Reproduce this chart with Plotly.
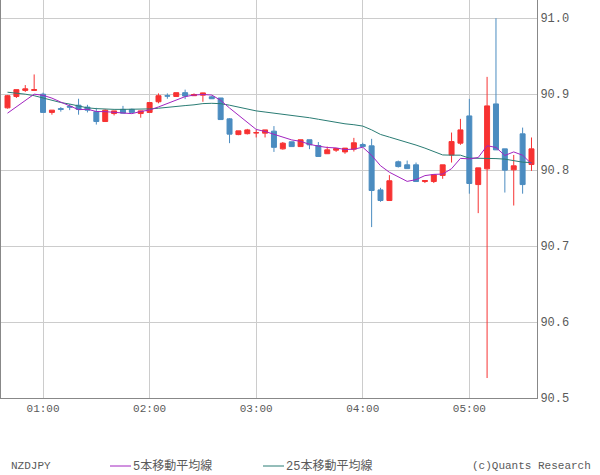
import plotly.graph_objects as go

times = ["00:40","00:45","00:50","00:55","01:00","01:05","01:10","01:15","01:20","01:25",
         "01:30","01:35","01:40","01:45","01:50","01:55","02:00","02:05","02:10","02:15",
         "02:20","02:25","02:30","02:35","02:40","02:45","02:50","02:55","03:00","03:05",
         "03:10","03:15","03:20","03:25","03:30","03:35","03:40","03:45","03:50","03:55",
         "04:00","04:05","04:10","04:15","04:20","04:25","04:30","04:35","04:40","04:45",
         "04:50","04:55","05:00","05:05","05:10","05:15","05:20","05:25","05:30","05:35"]

opens = [90.882, 90.897, 90.905, 90.905, 90.900, 90.876, 90.881, 90.884, 90.8855, 90.883,
         90.877, 90.864, 90.8745, 90.880, 90.880, 90.8745, 90.876, 90.890, 90.898, 90.897,
         90.902, 90.898, 90.8987, 90.8965, 90.895, 90.8675, 90.8468, 90.848, 90.849, 90.8487,
         90.8513, 90.828, 90.8373, 90.831, 90.840, 90.8324, 90.8216, 90.8263, 90.824, 90.8276,
         90.8337, 90.832, 90.774, 90.760, 90.811, 90.807, 90.807, 90.785, 90.785, 90.793,
         90.820, 90.8355, 90.8714, 90.781, 90.8017, 90.8872, 90.828, 90.8004, 90.8478, 90.8074]
highs = [90.899, 90.906, 90.912, 90.926, 90.902, 90.879, 90.883, 90.887, 90.894, 90.886,
         90.882, 90.880, 90.878, 90.8846, 90.881, 90.8784, 90.889, 90.901, 90.901, 90.902,
         90.906, 90.901, 90.902, 90.898, 90.895, 90.8684, 90.8517, 90.8543, 90.853, 90.853,
         90.858, 90.837, 90.8373, 90.840, 90.840, 90.837, 90.831, 90.8284, 90.829, 90.8425,
         90.836, 90.8412, 90.7767, 90.7934, 90.8126, 90.8126, 90.810, 90.7863, 90.7938, 90.807,
         90.8495, 90.8675, 90.8938, 90.803, 90.9228, 91.000, 90.828, 90.820, 90.856, 90.843]
lows = [90.881, 90.895, 90.903, 90.905, 90.876, 90.873, 90.877, 90.879, 90.873, 90.876,
        90.860, 90.864, 90.872, 90.875, 90.876, 90.869, 90.876, 90.888, 90.894, 90.897,
        90.8935, 90.898, 90.890, 90.894, 90.8666, 90.8355, 90.846, 90.847, 90.843, 90.843,
        90.824, 90.827, 90.831, 90.831, 90.8276, 90.818, 90.8216, 90.824, 90.8215, 90.8245,
        90.831, 90.725, 90.7583, 90.760, 90.8034, 90.802, 90.785, 90.783, 90.783, 90.7886,
        90.810, 90.8333, 90.769, 90.7434, 90.5263, 90.8267, 90.7705, 90.7534, 90.769, 90.799]
closes = [90.898, 90.906, 90.907, 90.906, 90.876, 90.879, 90.880, 90.883, 90.880, 90.879,
          90.864, 90.879, 90.878, 90.875, 90.876, 90.878, 90.889, 90.898, 90.8975, 90.902,
          90.8975, 90.8995, 90.9017, 90.894, 90.8666, 90.8474, 90.8517, 90.853, 90.8493, 90.853,
          90.830, 90.8355, 90.831, 90.840, 90.8333, 90.818, 90.8267, 90.8284, 90.829, 90.836,
          90.831, 90.7732, 90.760, 90.786, 90.8047, 90.802, 90.785, 90.7863, 90.7938, 90.807,
          90.8376, 90.853, 90.7824, 90.803, 90.8846, 90.8267, 90.800, 90.8057, 90.781, 90.828]

ma5 = [90.875, 90.883, 90.891, 90.900, 90.8986, 90.8948, 90.8896, 90.8848, 90.8796, 90.8802,
       90.8772, 90.877, 90.876, 90.875, 90.8744, 90.8772, 90.8792, 90.8832, 90.8877, 90.8929,
       90.8968, 90.8989, 90.8996, 90.8989, 90.8919, 90.8818, 90.8723, 90.8625, 90.8536, 90.8509,
       90.8474, 90.8442, 90.8398, 90.8379, 90.834, 90.8316, 90.8298, 90.8293, 90.8271, 90.8276,
       90.8302, 90.8195, 90.8058, 90.7972, 90.791, 90.7852, 90.7875, 90.7928, 90.7944, 90.7948,
       90.8019, 90.8155, 90.8148, 90.8166, 90.8321, 90.8299, 90.8193, 90.824, 90.8196, 90.8083]
ma25 = [90.9026, 90.9015, 90.900, 90.898, 90.8947, 90.892, 90.889, 90.887, 90.8845, 90.882,
        90.881, 90.8803, 90.880, 90.880, 90.880, 90.8803, 90.8806, 90.8815, 90.883, 90.884,
        90.885, 90.886, 90.8876, 90.888, 90.8875, 90.8855, 90.883, 90.8805, 90.878, 90.8765,
        90.875, 90.8735, 90.872, 90.871, 90.869, 90.867, 90.865, 90.8625, 90.861, 90.8598,
        90.858, 90.853, 90.847, 90.8435, 90.840, 90.8375, 90.833, 90.829, 90.8245, 90.820,
        90.8197, 90.8197, 90.8158, 90.8157, 90.8157, 90.8152, 90.8145, 90.812, 90.8105, 90.810]

hour_ticks = ["01:00", "02:00", "03:00", "04:00", "05:00"]
price_ticks = [90.5, 90.6, 90.7, 90.8, 90.9, 91.0]

DAY = "2024-01-01 "
x = [DAY + t for t in times]

RED = "#F73232"
BLUE = "#4B8CC0"
PURPLE = "#A224C0"
TEAL = "#2A7C74"
TXT = "#5A5A5A"
FONT = "Liberation Mono, Noto Sans CJK JP, monospace"

fig = go.Figure()
fig.add_trace(go.Candlestick(
    x=x, open=opens, high=highs, low=lows, close=closes,
    increasing=dict(line=dict(color=RED, width=1), fillcolor=RED),
    decreasing=dict(line=dict(color=BLUE, width=1), fillcolor=BLUE),
    whiskerwidth=0, showlegend=False, hoverinfo="skip"))
fig.add_trace(go.Scatter(x=x, y=ma25, mode="lines", line=dict(color=TEAL, width=1),
                         showlegend=False, hoverinfo="skip"))
fig.add_trace(go.Scatter(x=x, y=ma5, mode="lines", line=dict(color=PURPLE, width=1),
                         showlegend=False, hoverinfo="skip"))

fig.update_layout(
    width=600, height=475,
    margin=dict(l=1, r=63, t=0, b=77),
    paper_bgcolor="white", plot_bgcolor="white",
    font=dict(family=FONT, size=11, color=TXT),
    boxgap=0.2,
    xaxis=dict(
        type="date", range=[DAY + "00:36:20", DAY + "05:38:06"],
        rangeslider=dict(visible=False),
        tickvals=[DAY + t for t in hour_ticks], ticktext=hour_ticks,
        showgrid=True, gridcolor="#CCCCCC", gridwidth=1,
        showline=True, linecolor="#888888", linewidth=1,
        ticks="", zeroline=False, tickfont=dict(size=11, color=TXT),
    ),
    yaxis=dict(
        side="right", range=[90.5, 91.024],
        tickvals=price_ticks, ticktext=[f"{v:.1f}" for v in price_ticks],
        showgrid=True, gridcolor="#CCCCCC", gridwidth=1,
        showline=True, linecolor="#888888", linewidth=1, mirror=True,
        ticks="", zeroline=False, tickfont=dict(size=12, color=TXT),
    ),
)

def px2paper(px):
    return (px - 1) / 536.0

yleg = -(466 - 398) / 398.0
fig.add_annotation(x=px2paper(9), y=yleg, xref="paper", yref="paper", text="NZDJPY",
                   showarrow=False, xanchor="left", yanchor="middle",
                   font=dict(size=11, color=TXT, family=FONT))
fig.add_shape(type="line", xref="paper", yref="paper", x0=px2paper(110), x1=px2paper(131),
              y0=yleg, y1=yleg, line=dict(color=PURPLE, width=1))
fig.add_annotation(x=px2paper(131), y=yleg, xref="paper", yref="paper", text="5本移動平均線",
                   showarrow=False, xanchor="left", yanchor="middle",
                   font=dict(size=12, color=TXT, family=FONT))
fig.add_shape(type="line", xref="paper", yref="paper", x0=px2paper(263), x1=px2paper(284),
              y0=yleg, y1=yleg, line=dict(color=TEAL, width=1))
fig.add_annotation(x=px2paper(284), y=yleg, xref="paper", yref="paper", text="25本移動平均線",
                   showarrow=False, xanchor="left", yanchor="middle",
                   font=dict(size=12, color=TXT, family=FONT))
fig.add_annotation(x=px2paper(593), y=yleg, xref="paper", yref="paper", text="(c)Quants Research",
                   showarrow=False, xanchor="right", yanchor="middle",
                   font=dict(size=11, color=TXT, family=FONT))

fig.write_html("out.html", config={"displayModeBar": False},
               post_script="document.body.style.margin='0';document.body.style.overflow='hidden';")
